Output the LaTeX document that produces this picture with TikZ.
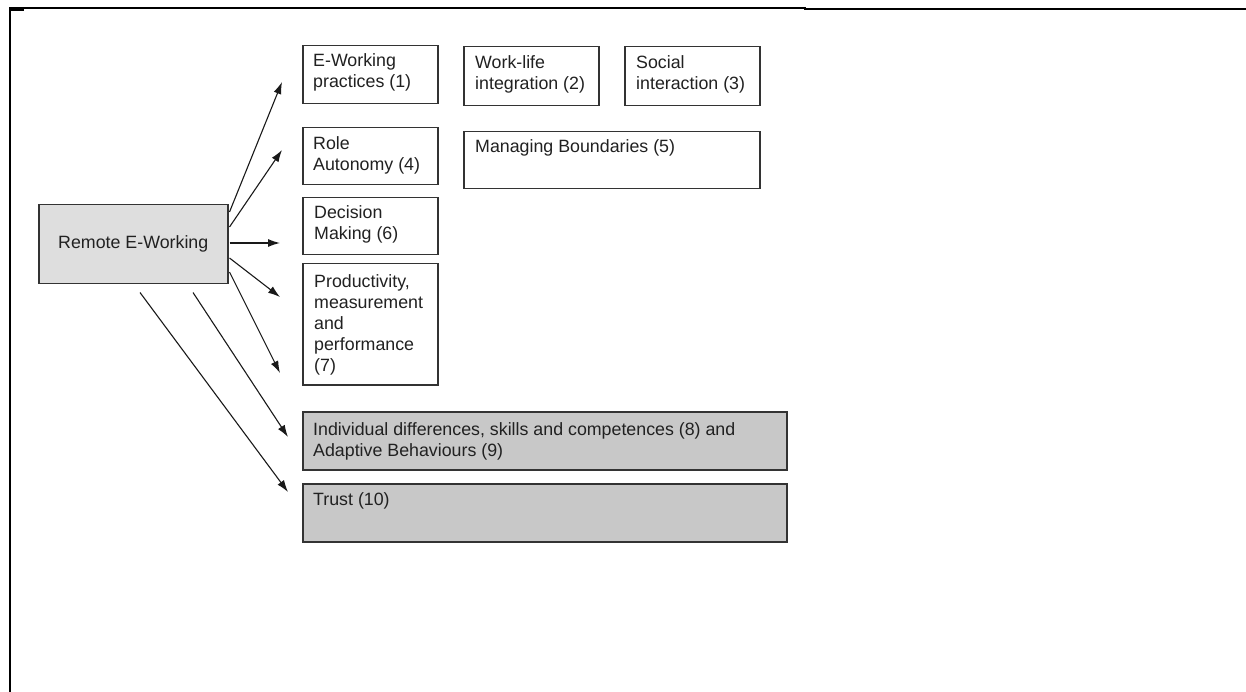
\documentclass[tikz,border=0pt]{standalone}
\usepackage{fontspec}
\setmainfont{Liberation Sans}
\usetikzlibrary{arrows.meta}
\definecolor{lightbox}{gray}{0.87}
\definecolor{darkbox}{gray}{0.785}
\definecolor{edge}{gray}{0.2}
\definecolor{ink}{gray}{0.13}
\tikzset{
  box/.style={draw=edge, line width=1.5pt, anchor=north west, inner sep=0pt, fill=white},
  graybox/.style={box, fill=darkbox},
  txt/.style={anchor=base west, inner sep=0pt, text=ink, font=\fontsize{17.8}{21}\selectfont, align=left},
  arr/.style={draw=black!90, line width=1.1pt, -{Latex[length=12pt,width=8pt]}},
  frame/.style={draw=black, line cap=rect}
}
\begin{document}
\begin{tikzpicture}[x=1pt,y=-1pt]
\useasboundingbox (0,0) rectangle (1246,692);
% frame
\draw[frame, line width=2.2pt] (10,8) -- (10,692);
\draw[frame, line width=1.4pt] (10,8) -- (805,8);
\draw[frame, line width=2.6pt] (805,9) -- (1246,9);
\draw[frame, line width=2.2pt] (10,10) -- (23,10);
% central box
\node[box, fill=lightbox, minimum width=189, minimum height=79] (r) at (38,204) {};
\node[anchor=center, inner sep=0pt, text=ink, font=\fontsize{17.8}{21}\selectfont] (rt) at (r.center) {Remote E-Working};
% boxes
\node[box, minimum width=135, minimum height=58] (b1) at (302,45) {};
\node[box, minimum width=135, minimum height=59] (b2) at (463,46) {};
\node[box, minimum width=135, minimum height=59] (b3) at (624,46) {};
\node[box, minimum width=135, minimum height=57] (b4) at (302,127) {};
\node[box, minimum width=296, minimum height=57] (b5) at (463,131) {};
\node[box, minimum width=135, minimum height=57] (b6) at (302,197) {};
\node[box, minimum width=135, minimum height=121] (b7) at (302,263) {};
\node[graybox, minimum width=484, minimum height=58] (b8) at (302,411) {};
\node[graybox, minimum width=484, minimum height=58] (b10) at (302,483) {};
% texts (base anchor = baseline of the last line)
\node[txt] (t1) at ([shift={(11,43)}]b1.north west) {E-Working\\practices (1)};
\node[txt] (t2) at ([shift={(12,44)}]b2.north west) {Work-life\\integration (2)};
\node[txt] (t3) at ([shift={(12,44)}]b3.north west) {Social\\interaction (3)};
\node[txt] (t4) at ([shift={(11,44)}]b4.north west) {Role\\Autonomy (4)};
\node[txt] (t5) at ([shift={(12,22)}]b5.north west) {Managing Boundaries (5)};
\node[txt] (t6) at ([shift={(12,43)}]b6.north west) {Decision\\Making (6)};
\node[txt] (t7) at ([shift={(12,108)}]b7.north west) {Productivity,\\measurement\\and\\performance\\(7)};
\node[txt] (t8) at ([shift={(11,45)}]b8.north west) {Individual differences, skills and competences (8) and\\Adaptive Behaviours (9)};
\node[txt] (t10) at ([shift={(11,22)}]b10.north west) {Trust (10)};
% arrows
\draw[arr] ([shift={(1,8)}]r.north east) -- ([shift={(-20,37)}]b1.north west);
\draw[arr] ([shift={(1,23)}]r.north east) -- ([shift={(-20,23)}]b4.north west);
\draw[arr] ([shift={(1,39)}]r.north east) -- ([shift={(-22,46)}]b6.north west);
\draw[arr] ([shift={(1,54)}]r.north east) -- ([shift={(-22,34)}]b7.north west);
\draw[arr] ([shift={(1,68)}]r.north east) -- ([shift={(-22,110)}]b7.north west);
\draw[arr] ([shift={(155,8)}]r.south west) -- ([shift={(-14,26)}]b8.north west);
\draw[arr] ([shift={(102,8)}]r.south west) -- ([shift={(-14,9)}]b10.north west);
\end{tikzpicture}
\end{document}
